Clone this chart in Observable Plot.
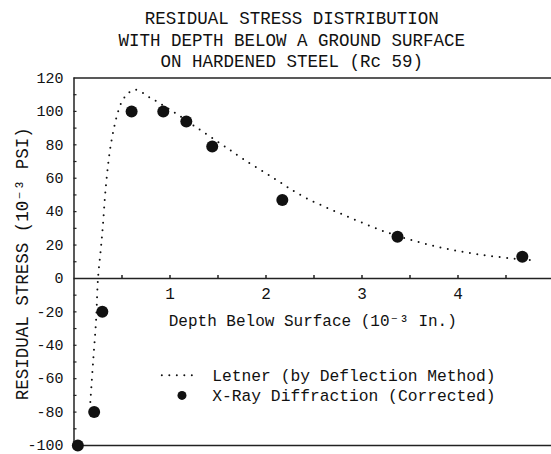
<!DOCTYPE html>
<html><head><meta charset="utf-8">
<script src="https://cdn.jsdelivr.net/npm/d3@7"></script>
<script src="https://cdn.jsdelivr.net/npm/@observablehq/plot@0.6"></script>
<style>body{margin:0;background:#fff} svg{display:block}</style>
</head><body><div id="chart"></div>
<script>
const titleLines = ["RESIDUAL STRESS DISTRIBUTION", "WITH DEPTH BELOW A GROUND SURFACE", "ON HARDENED STEEL (Rc 59)"];
const xLabel = "Depth Below Surface (10\u207B\u00B3 In.)";
const yLabel = "RESIDUAL STRESS (10\u207B\u00B3 PSI)";
const seriesNames = ["Letner (by Deflection Method)", "X-Ray Diffraction (Corrected)"];

// X-Ray Diffraction (Corrected) measurements
const xrayDepth  = [0.04, 0.21, 0.295, 0.60, 0.93, 1.17, 1.44, 2.17, 3.37, 4.67];
const xrayStress = [-100, -80, -20, 100, 100, 94, 79, 47, 25, 13];

// Letner (by Deflection Method) curve
const letnerDepth  = [0.17, 0.20, 0.23, 0.25, 0.28, 0.30, 0.33, 0.375, 0.42, 0.46, 0.50, 0.55, 0.62, 0.69, 0.77, 0.86, 1.03, 1.26, 1.52, 1.75, 2.08, 2.39, 2.81, 3.29, 3.78, 4.26, 4.75];
const letnerStress = [-74, -49, -25, 0, 18, 31, 54, 77, 91, 100, 106, 110, 113, 112, 109, 106, 100, 91, 81, 72, 60, 49, 38, 27, 19, 14, 11];

const yTickLabels = [-100, -80, -60, -40, -20, 0, 20, 40, 60, 80, 100, 120];
const yMinorTicks = [-90, -80, -70, -60, -50, -40, -30, -20, -10, 10, 20, 30, 40, 50, 60, 70, 80, 90, 100, 110];
const xTickLabels = [1, 2, 3, 4];
const xMinorTicks = [0.5, 1, 1.5, 2, 2.5, 3, 3.5, 4, 4.5];

// legend placement (in data units, inside the plot area)
const legendSwatchX = [0.92, 1.28];
const legendDotX = 1.125;
const legendTextX = 1.44;
const legendRowY = [-58, -70];

const xray = xrayDepth.map((d, i) => ({depth: d, stress: xrayStress[i]}));
const letner = letnerDepth.map((d, i) => ({depth: d, stress: letnerStress[i]}));

const FONT = "'Liberation Mono', 'DejaVu Sans Mono', monospace";
const INK = "#111";

const chart = Plot.plot({
  width: 551,
  height: 454,
  marginLeft: 73.5,
  marginRight: 0,
  marginTop: 77.5,
  marginBottom: 9,
  style: {fontFamily: FONT, fontSize: "15px", color: INK, background: "#fff"},
  x: {domain: [0, 4.974], axis: null},
  y: {domain: [-100, 120], axis: null},
  marks: [
    // frame: top, bottom, left, zero line
    Plot.ruleY([120, -100], {stroke: "#222", strokeWidth: 1.5}),
    Plot.ruleX([0], {y1: -100, y2: 120, stroke: "#222", strokeWidth: 1.5}),
    Plot.ruleY([0], {stroke: "#222", strokeWidth: 1.5}),
    // y minor ticks (inward)
    Plot.ruleY(yMinorTicks, {x1: 0, x2: 0, insetRight: -3, stroke: "#222", strokeWidth: 1.2}),
    // x ticks on the zero line (upward)
    Plot.ruleX(xMinorTicks, {y1: 0, y2: 0, insetTop: -3, stroke: "#222", strokeWidth: 1.5}),
    // y tick labels
    Plot.text(yTickLabels, {x: () => 0, y: d => d, text: d => String(d), textAnchor: "end", dx: -10.5, fontSize: 15, fill: INK}),
    // x tick labels
    Plot.text(xTickLabels, {x: d => d, y: () => 0, text: d => String(d), dy: 15.5, fontSize: 16, fill: INK}),
    // Letner curve
    Plot.line(letner, {x: "depth", y: "stress", curve: "catmull-rom", stroke: INK, strokeWidth: 2, strokeDasharray: "0,7.5", strokeLinecap: "round"}),
    // X-ray points
    Plot.dot(xray, {x: "depth", y: "stress", r: 6, fill: INK, stroke: null}),
    // title
    Plot.text([titleLines.join("\n")], {frameAnchor: "top", lineAnchor: "top", textAnchor: "middle", dx: -21, dy: -69, fontSize: 17.5, lineHeight: 1.22, fill: INK}),
    // x label
    Plot.text([xLabel], {y: () => 0, dy: 42, fontSize: 16, fill: INK}),
    // y label
    Plot.text([yLabel], {frameAnchor: "left", textAnchor: "middle", lineAnchor: "middle", rotate: -90, dx: -52, dy: 2, fontSize: 17.5, fill: INK}),
    // legend
    Plot.ruleY([legendRowY[0]], {x1: legendSwatchX[0], x2: legendSwatchX[1], stroke: INK, strokeWidth: 2, strokeDasharray: "0,7.5", strokeLinecap: "round"}),
    Plot.dot([legendRowY[1]], {x: () => legendDotX, y: d => d, r: 4.5, fill: INK, stroke: null}),
    Plot.text(seriesNames, {x: () => legendTextX, y: (d, i) => legendRowY[i], text: d => d, textAnchor: "start", fontSize: 16.3, fill: INK})
  ]
});
document.getElementById("chart").appendChild(chart);
</script>
</body></html>
